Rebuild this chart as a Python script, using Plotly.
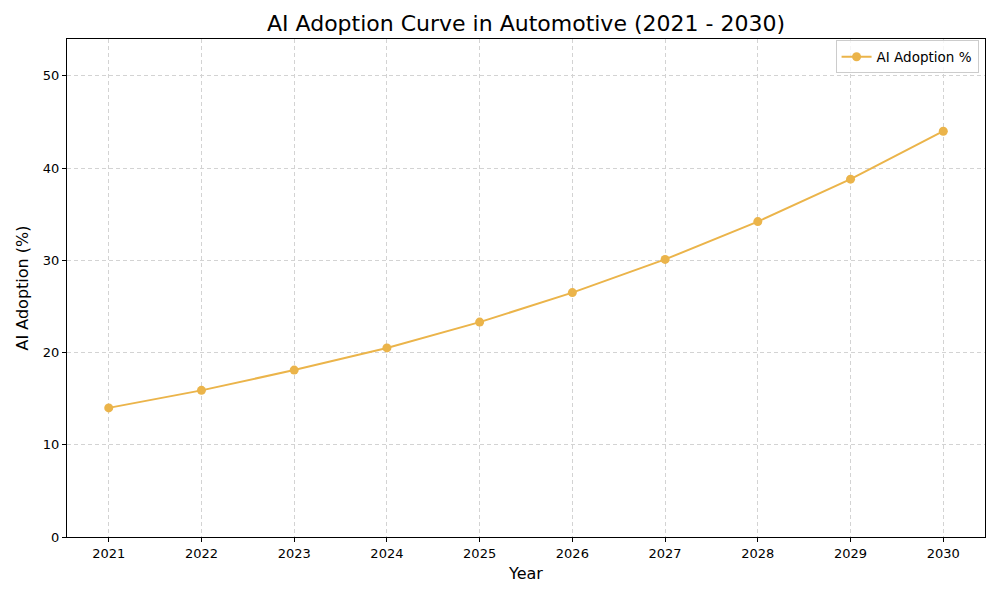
import plotly.graph_objects as go

years = [2021, 2022, 2023, 2024, 2025, 2026, 2027, 2028, 2029, 2030]
adoption = [14.0, 15.9, 18.1, 20.5, 23.3, 26.5, 30.1, 34.2, 38.8, 44.0]
y_ticks = [0, 10, 20, 30, 40, 50]

line_col = "#EBB44A"
grid_col = "#d3d3d3"

fig = go.Figure()
fig.add_trace(go.Scatter(
    x=years, y=adoption, mode="lines+markers", name="AI Adoption %",
    line=dict(color=line_col, width=2),
    marker=dict(color=line_col, size=9),
))

axis_common = dict(
    showline=True, linecolor="black", linewidth=1, mirror=True,
    ticks="outside", ticklen=4, tickcolor="black",
    showgrid=True, gridcolor=grid_col, griddash="4px,3px", gridwidth=1,
    zeroline=False, tickfont=dict(size=13, color="black"),
)

# the page puts the plot 8px in from the corner, margins make up for it
fig.update_layout(
    width=1000, height=600,
    paper_bgcolor="white", plot_bgcolor="white",
    font=dict(family="DejaVu Sans", color="black"),
    margin=dict(l=59, r=23, t=31, b=71),
    title=dict(text="AI Adoption Curve in Automotive (2021 - 2030)",
               x=0.518, xanchor="center", y=0.975, yanchor="middle",
               font=dict(size=22, color="black")),
    xaxis=dict(axis_common, range=[2020.55, 2030.45], tickvals=years,
               title=dict(text="Year", font=dict(size=16), standoff=8)),
    yaxis=dict(axis_common, range=[0, 54], tickvals=y_ticks,
               title=dict(text="AI Adoption (%)", font=dict(size=16), standoff=10)),
    legend=dict(x=0.993, y=0.997, xanchor="right", yanchor="top",
                bgcolor="rgba(255,255,255,0.8)", bordercolor="#cccccc", borderwidth=1,
                font=dict(size=13.5)),
    showlegend=True,
)

fig.write_html("out.html")
